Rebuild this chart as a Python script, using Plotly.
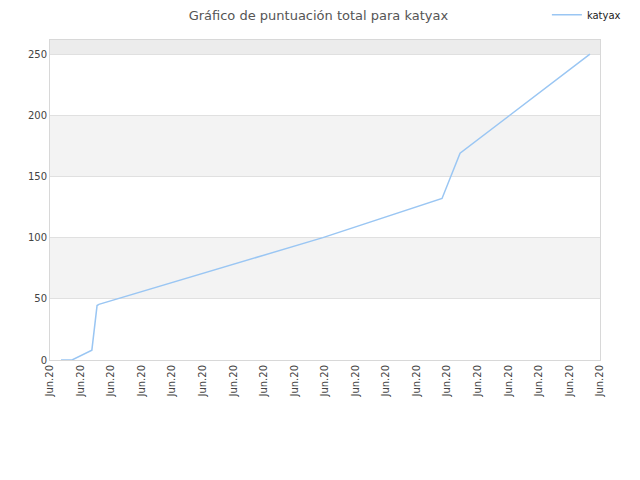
import plotly.graph_objects as go

# datos (x en posiciones de marca del eje)
posiciones = [0.36, 0.72, 1.37, 1.54, 1.60, 8.93, 12.83, 13.42, 17.67]
puntos = [0, 0, 8, 44.5, 45.5, 100, 132, 169, 250]
etiquetas_x = ['Jun.20'] * 19
marcas_y = [0, 50, 100, 150, 200, 250]
jugador = 'katyax'

fig = go.Figure()
fig.add_trace(go.Scatter(x=posiciones, y=puntos, mode='lines', name=jugador,
                         line=dict(color='#9ac6f3', width=1.5)))

# bandas grises alternas
for y0, y1, col in [(50, 100, '#f3f3f3'), (150, 200, '#f3f3f3'), (250, 261.5, '#ececec')]:
    fig.add_shape(type='rect', xref='paper', yref='y', x0=0, x1=1, y0=y0, y1=y1,
                  fillcolor=col, line_width=0, layer='below')

# la página tiene 8px de margen en el body, se compensa aquí
fig.update_layout(
    width=640, height=480,
    margin=dict(l=42, r=48, t=32, b=128, autoexpand=False),
    paper_bgcolor='white', plot_bgcolor='white',
    font=dict(family='DejaVu Sans', size=10, color='#444'),
    title=dict(text='Gráfico de puntuación total para ' + jugador, x=0.485, xanchor='center',
               y=0.985, yanchor='middle', font=dict(size=13, color='#555')),
    showlegend=True,
    legend=dict(xref='container', yref='container', x=0.842, y=0.986, xanchor='left',
                yanchor='middle', bgcolor='rgba(0,0,0,0)', itemwidth=30,
                font=dict(size=10, color='#222')),
)
fig.update_xaxes(range=[0, 18], tickmode='array', tickvals=list(range(19)), ticktext=etiquetas_x,
                 tickangle=-90, showgrid=False, zeroline=False, showline=True, linecolor='#d8d8d8',
                 mirror=True, ticks='', tickfont=dict(size=10, color='#444'))
fig.update_yaxes(range=[0, 261.5], tickmode='array', tickvals=marcas_y, showgrid=True,
                 gridcolor='#e0e0e0', zeroline=False, showline=True, linecolor='#d8d8d8',
                 mirror=True, ticks='', tickfont=dict(size=10, color='#444'))

fig.write_html('out.html')
